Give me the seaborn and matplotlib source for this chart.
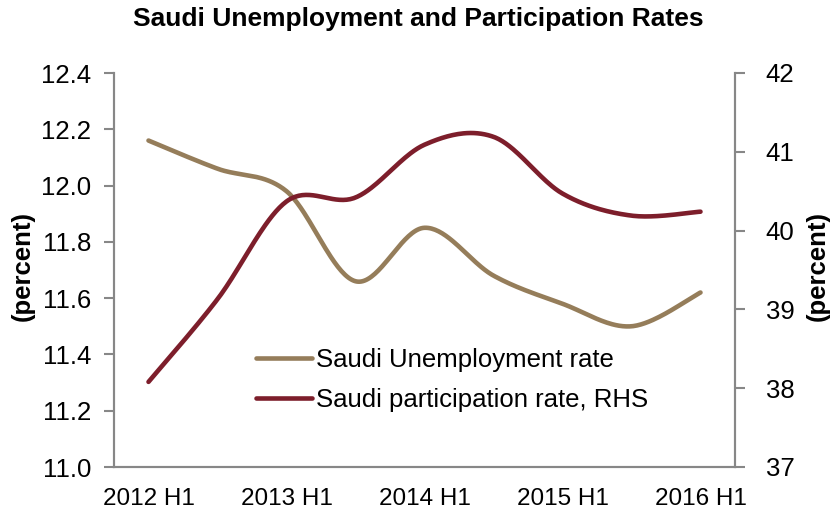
import numpy as np
import pandas as pd
import matplotlib
matplotlib.use("Agg")
import matplotlib.pyplot as plt
import seaborn as sns

# Data
periods = ["2012 H1", "2012 H2", "2013 H1", "2013 H2", "2014 H1",
           "2014 H2", "2015 H1", "2015 H2", "2016 H1"]
unemployment = [12.16, 12.06, 11.98, 11.66, 11.85, 11.68, 11.58, 11.50, 11.62]
participation = [38.08, 39.13, 40.37, 40.42, 41.09, 41.19, 40.47, 40.19, 40.24]

tan = "#957D5A"
maroon = "#7D1E2B"
grey = "#878787"

sns.set_style("white")
plt.rcParams["font.family"] = ["Liberation Sans", "DejaVu Sans"]
plt.rcParams["text.color"] = "black"


def smooth(y, n=40):
    # Excel-style smoothed line: cubic Bezier between points (Catmull-Rom, 1/6 tension)
    x = np.arange(len(y), dtype=float)
    y = np.asarray(y, dtype=float)
    pts = np.column_stack([x, y])
    out = []
    for i in range(len(pts) - 1):
        p0 = pts[max(i - 1, 0)]
        p1 = pts[i]
        p2 = pts[i + 1]
        p3 = pts[min(i + 2, len(pts) - 1)]
        c1 = p1 + (p2 - p0) / 6
        c2 = p2 - (p3 - p1) / 6
        t = np.linspace(0, 1, n)[:, None]
        seg = ((1 - t) ** 3) * p1 + 3 * ((1 - t) ** 2) * t * c1 + 3 * (1 - t) * t ** 2 * c2 + t ** 3 * p2
        out.append(seg if i == 0 else seg[1:])
    out = np.vstack(out)
    return pd.DataFrame({"x": out[:, 0], "y": out[:, 1]})


W, H = 837, 515
fig = plt.figure(figsize=(W / 100, H / 100), dpi=100)
ax = fig.add_axes([114 / W, 1 - 467 / H, (735 - 114) / W, (467 - 73) / H])
ax2 = ax.twinx()

u = smooth(unemployment)
p = smooth(participation)
sns.lineplot(data=u, x="x", y="y", ax=ax, color=tan, lw=3.3, sort=False,
             label="Saudi Unemployment rate", legend=False, solid_capstyle="round")
sns.lineplot(data=p, x="x", y="y", ax=ax2, color=maroon, lw=3.3, sort=False,
             label="Saudi participation rate, RHS", legend=False, solid_capstyle="round")

# x axis: category boundaries as tick marks, labels every other half-year
ax.set_xlim(-0.5, len(periods) - 0.5)
ax.set_xticks(range(0, len(periods), 2))
ax.set_xticklabels(periods[::2])
ax.set_xticks(np.arange(-0.5, len(periods), 1), minor=True)
ax.tick_params(axis="x", which="major", length=0, labelsize=17.5, pad=15, labelcolor="black")
ax.tick_params(axis="x", which="minor", length=6, width=1.5, color=grey, direction="out")

ax.set_ylim(11.0, 12.4)
ax.set_yticks(np.arange(11.0, 12.41, 0.2))
ax.set_yticklabels([f"{v:.1f}" for v in np.arange(11.0, 12.41, 0.2)])
ax.tick_params(axis="y", length=7, width=1.5, color=grey, direction="out", labelsize=18.5,
               pad=9.5, left=True, labelcolor="black")

ax2.set_ylim(37, 42)
ax2.set_yticks(range(37, 43))
ax2.tick_params(axis="y", length=7, width=1.5, color=grey, direction="out", labelsize=18.5,
                pad=15, right=True, labelcolor="black")

for a in (ax, ax2):
    a.set_xlabel("")
    a.set_ylabel("")
    a.spines["top"].set_visible(False)
    for s in ("left", "right", "bottom"):
        a.spines[s].set_color(grey)
        a.spines[s].set_linewidth(1.5)

fig.text(23 / W, 1 - 266 / H, "(percent)", rotation=90, ha="center", va="center",
         fontsize=18.5, fontweight="bold")
fig.text(818 / W, 1 - 266 / H, "(percent)", rotation=90, ha="center", va="center",
         fontsize=18.5, fontweight="bold")

fig.text(0.5, 1 - 19 / H, "Saudi Unemployment and Participation Rates", ha="center",
         va="center", fontsize=19, fontweight="bold")

h1, l1 = ax.get_legend_handles_labels()
h2, l2 = ax2.get_legend_handles_labels()
ax2.legend(h1 + h2, l1 + l2, loc="center left", bbox_to_anchor=(256 / W, 1 - 380 / H),
           bbox_transform=fig.transFigure, frameon=False, fontsize=18.5,
           handlelength=2.18, handletextpad=0.16, labelspacing=0.66,
           borderpad=0, borderaxespad=0)

fig.savefig("out.png", dpi=100)
